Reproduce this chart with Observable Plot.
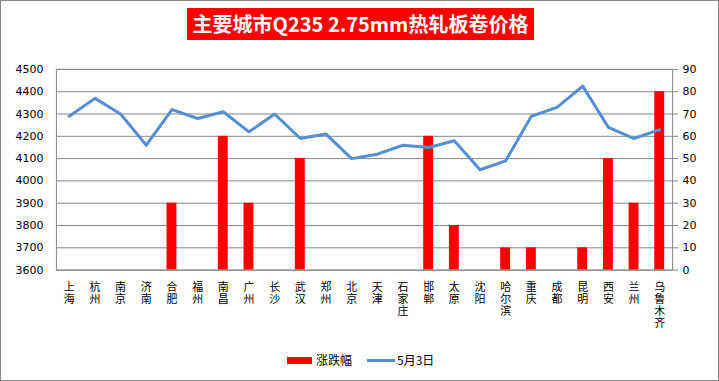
<!DOCTYPE html>
<html><head><meta charset="utf-8">
<script src="https://cdn.jsdelivr.net/npm/d3@7"></script>
<script src="https://cdn.jsdelivr.net/npm/@observablehq/plot@0.6"></script>
<style>
html,body{margin:0;padding:0;background:#fff;}
#wrap{position:relative;width:717px;height:379px;border:1px solid #868686;overflow:hidden;font-family:"Noto Sans CJK SC",sans-serif;}
#title{position:absolute;left:186px;top:7px;width:347px;height:32px;background:#ff0000;color:#fff;font-weight:bold;font-size:20px;line-height:32px;text-align:center;white-space:nowrap;letter-spacing:0px;}
#chart{position:absolute;left:-1px;top:-1px;}
#legend{position:absolute;top:351px;left:0;width:717px;height:16px;font-size:12px;}
.lg{position:absolute;top:0;line-height:16px;white-space:nowrap;}
</style>
</head><body>
<div id="wrap">
  <div id="title">主要城市Q235 2.75mm热轧板卷价格</div>
  <div id="chart"></div>
  <div id="legend">
    <span class="lg" style="left:286px;top:5px;width:25px;height:7px;background:#ff0000;"></span>
    <span class="lg" style="left:315px;">涨跌幅</span>
    <span class="lg" style="left:366px;top:7px;width:28px;height:3px;background:#558ed5;"></span>
    <span class="lg" style="left:396px;">5月3日</span>
  </div>
</div>
<script>
const cities = ["上海","杭州","南京","济南","合肥","福州","南昌","广州","长沙","武汉","郑州","北京","天津","石家庄","邯郸","太原","沈阳","哈尔滨","重庆","成都","昆明","西安","兰州","乌鲁木齐"];
const prices = [4290,4370,4300,4160,4320,4280,4310,4220,4300,4190,4210,4100,4120,4160,4150,4180,4050,4090,4290,4330,4425,4240,4190,4230];
const changes = [0,0,0,0,30,0,60,30,0,50,0,0,0,0,60,20,0,10,10,0,10,50,30,80];
const leftTicks = [3600,3700,3800,3900,4000,4100,4200,4300,4400,4500];
const rightTicks = [0,10,20,30,40,50,60,70,80,90];

const lMin = leftTicks[0], lMax = leftTicks[leftTicks.length-1];
const rMin = rightTicks[0], rMax = rightTicks[rightTicks.length-1];
const toLeft = v => lMin + (v - rMin) * (lMax - lMin) / (rMax - rMin);
const toRight = v => rMin + (v - lMin) * (rMax - rMin) / (lMax - lMin);

const rows = cities.map((c,i) => ({city:c, price:prices[i], change:changes[i]}));

const chart = Plot.plot({
  width: 719, height: 345,
  marginTop: 69, marginBottom: 75, marginLeft: 56, marginRight: 46,
  style: {fontFamily: "DejaVu Sans, Verdana, sans-serif", fontSize: "11px", color: "#000", background: "transparent"},
  x: {type: "band", domain: cities, padding: 0, round: false, axis: null},
  y: {domain: [lMin, lMax], axis: null},
  marks: [
    Plot.ruleY(leftTicks, {stroke: "#868686", strokeWidth: 1, strokeOpacity: 1}),
    Plot.barY(rows.filter(d => d.change > 0), {x: "city", y1: () => lMin, y2: d => toLeft(d.change), fill: "#ff0000", insetLeft: 7.9, insetRight: 7.9}),
    Plot.lineY(rows, {x: "city", y: "price", stroke: "#558ed5", strokeWidth: 3, strokeLinejoin: "round"}),
    Plot.frame({stroke: "#868686", strokeWidth: 1}),
    Plot.axisY({anchor: "left", ticks: leftTicks, tickSize: 0, tickPadding: 13, label: null, fontSize: 11, tickFormat: d => String(d)}),
    Plot.axisY({anchor: "right", ticks: leftTicks, tickSize: 5, tickPadding: 5, stroke: "#868686", label: null, fontSize: 11, tickFormat: d => String(Math.round(toRight(d)))}),
    Plot.text(cities, {x: d => d, text: d => d, frameAnchor: "bottom", dy: 3, fontSize: 11, fontFamily: "Noto Sans CJK SC", fill: "#000", textAnchor: "start", lineAnchor: "top"})
  ]
});
// stack each city name vertically (one character under the other, as in the reference)
const citySet = new Set(cities);
d3.select(chart).selectAll("text")
  .filter(function() { return citySet.has(this.textContent); })
  .attr("dy", "0")
  .attr("writing-mode", "vertical-rl")
  .attr("text-anchor", "start")
  .style("text-orientation", "upright")
  .style("letter-spacing", "1px");
document.getElementById("chart").appendChild(chart);
</script>
</body></html>
